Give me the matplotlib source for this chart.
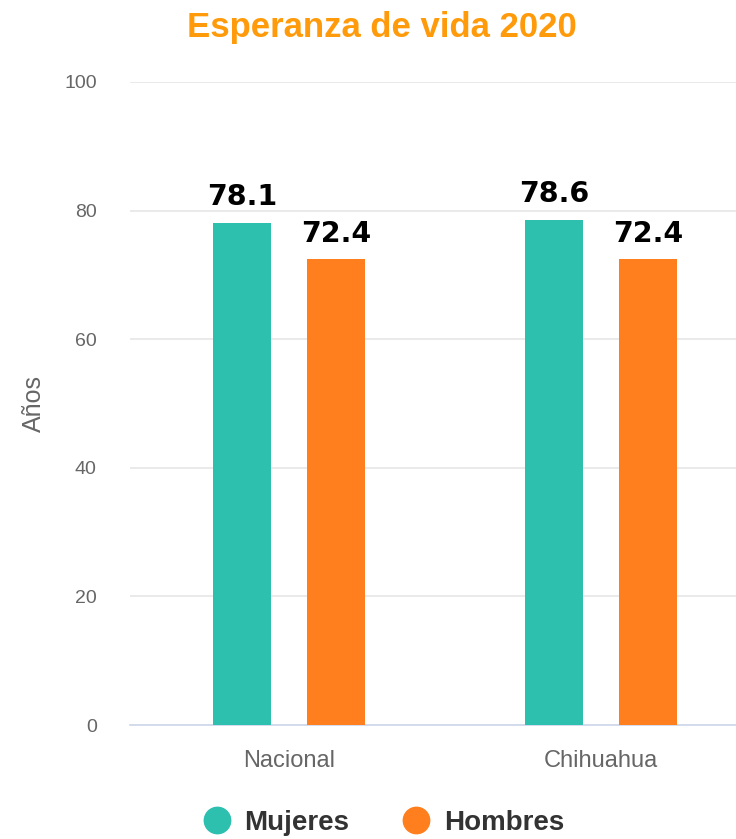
import matplotlib
matplotlib.use("Agg")
import matplotlib.pyplot as plt
import numpy as np
from matplotlib.lines import Line2D

categories = ["Nacional", "Chihuahua"]
series_names = ["Mujeres", "Hombres"]
mujeres = [78.1, 78.6]
hombres = [72.4, 72.4]
yticks = [0, 20, 40, 60, 80, 100]

COLORS = ["#2DC0AF", "#FF7F1E"]
TITLE_COLOR = "#FF9A0A"


def main() -> None:
    fig = plt.figure(figsize=(7.36, 8.39), dpi=100)
    ax = fig.add_axes([130 / 736, 1 - 725 / 839, 606 / 736, 643 / 839])

    x = np.arange(len(categories))
    width = 0.186
    offset = 0.151
    for vals, off, color in zip([mujeres, hombres], [-offset, offset], COLORS):
        bars = ax.bar(x + off, vals, width=width, color=color, zorder=3)
        for b, v in zip(bars, vals):
            ax.text(b.get_x() + b.get_width() / 2, v + 1.8, f"{v:.1f}",
                    ha="center", va="bottom", fontsize=20.5, fontweight="bold",
                    family="DejaVu Sans", color="#000000", zorder=4)

    ax.set_xlim(-0.5096, 1.4327)
    ax.set_ylim(0, 100)
    ax.set_yticks(yticks)
    ax.set_yticklabels([str(t) for t in yticks])
    ax.set_xticks(x)
    ax.set_xticklabels(categories)

    ax.grid(axis="y", color="#E6E6E6", linewidth=1.2, zorder=0)
    for side in ["top", "right", "left"]:
        ax.spines[side].set_visible(False)
    ax.spines["bottom"].set_color("#CCD6EB")
    ax.spines["bottom"].set_linewidth(1.2)
    ax.tick_params(axis="y", length=0, pad=24, labelsize=14, labelcolor="#666666")
    ax.tick_params(axis="x", length=0, pad=18, labelsize=17, labelcolor="#666666")
    for lbl in ax.get_xticklabels() + ax.get_yticklabels():
        lbl.set_family("Liberation Sans")

    ax.set_ylabel("Años", fontsize=18, color="#666666", family="Liberation Sans",
                  labelpad=13)

    fig.text(0.519, 1 - 28 / 839, "Esperanza de vida 2020", ha="center", va="center",
             fontsize=25, fontweight="bold", color=TITLE_COLOR,
             family="Liberation Sans")

    handles = [Line2D([], [], marker="o", linestyle="", markersize=19,
                      markerfacecolor=c, markeredgecolor=c) for c in COLORS]
    leg = fig.legend(handles, series_names, loc="center",
                     bbox_to_anchor=(0.521, 1 - 823 / 839), ncol=2, frameon=False,
                     prop={"family": "Liberation Sans", "weight": "bold", "size": 20},
                     handletextpad=0.5, columnspacing=1.9, handlelength=1.0)
    for t in leg.get_texts():
        t.set_color("#333333")

    fig.savefig("out.png", dpi=100)


if __name__ == "__main__":
    main()
